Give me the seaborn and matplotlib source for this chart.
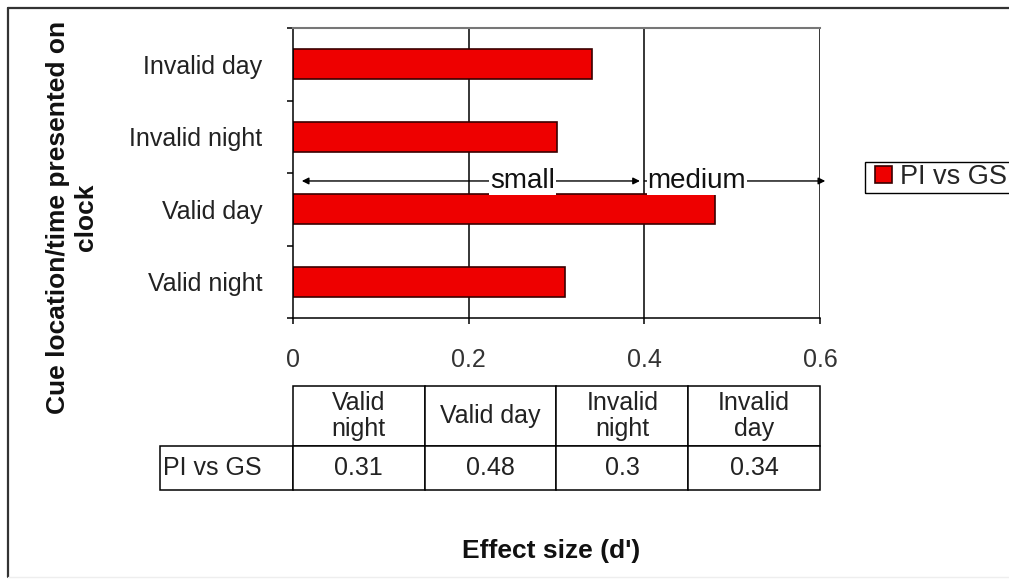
import matplotlib
matplotlib.use("Agg")
import matplotlib.pyplot as plt
import seaborn as sns
import pandas as pd
from matplotlib.lines import Line2D
from matplotlib.patches import Rectangle
from matplotlib.ticker import FixedLocator

# ---- data ----
categories = ["Invalid day", "Invalid night", "Valid day", "Valid night"]
values = [0.34, 0.30, 0.48, 0.31]
series_name = "PI vs GS"
table_order = ["Valid night", "Valid day", "Invalid night", "Invalid day"]
table_headers = ["Valid\nnight", "Valid day", "Invalid\nnight", "Invalid\nday"]
x_ticks = [0, 0.2, 0.4, 0.6]
x_tick_labels = ["0", "0.2", "0.4", "0.6"]
band_small = (0.01, 0.395)
band_medium = (0.40, 0.606)

sns.set_theme(style="white")
plt.rcParams["font.family"] = ["Liberation Sans", "DejaVu Sans"]

W, H = 1009, 581
fig = plt.figure(figsize=(W / 100, H / 100), dpi=100)
ax = fig.add_axes([293 / W, 1 - 318 / H, 527 / W, 290 / H])

df = pd.DataFrame({"category": categories, "value": values, "series": series_name})
red = "#EE0000"
sns.barplot(data=df, x="value", y="category", hue="series", order=categories,
            palette={series_name: red}, width=0.41, edgecolor="#3a0000",
            linewidth=1.2, orient="h", ax=ax, legend=True, saturation=1)

ax.set_xlim(0, 0.6)
ax.set_ylim(3.5, -0.5)

# gridlines
for xv in x_ticks[1:]:
    ax.axvline(xv, color="black", lw=1.1, zorder=0.5)

# spines
for s in ["left", "bottom"]:
    ax.spines[s].set_visible(True)
    ax.spines[s].set_color("black")
    ax.spines[s].set_linewidth(1.1)
ax.spines["top"].set_color("#777777")
ax.spines["top"].set_linewidth(1.5)
ax.spines["right"].set_visible(False)

# ticks
ax.set_xticks(x_ticks)
ax.set_xticklabels(x_tick_labels)
ax.tick_params(axis="x", direction="out", length=4.3, width=1.1, pad=17,
               labelsize=18, labelcolor="#333333", color="black", bottom=True)
ax.yaxis.set_minor_locator(FixedLocator([-0.5, 0.5, 1.5, 2.5, 3.5]))
ax.tick_params(axis="y", which="major", length=0, pad=22, labelsize=18,
               labelcolor="#222222", left=True)
ax.tick_params(axis="y", which="minor", direction="out", length=4.3, width=1.1,
               color="black", left=True)
ax.set_xlabel("")
ax.set_ylabel("")

# effect size bands
ya = 1.61
ax.annotate("", xy=(band_small[0], ya), xytext=(band_small[1], ya),
            arrowprops=dict(arrowstyle="<|-|>", color="black", lw=1.0,
                            mutation_scale=10, shrinkA=0, shrinkB=0),
            annotation_clip=False)
ax.annotate("", xy=(band_medium[1], ya), xytext=(band_medium[0], ya),
            arrowprops=dict(arrowstyle="-|>", color="black", lw=1.0,
                            mutation_scale=10, shrinkA=0, shrinkB=0),
            annotation_clip=False)
ax.text(0.261, ya, "small", ha="center", va="center", fontsize=20, color="#111111",
        bbox=dict(facecolor="white", edgecolor="none", pad=0.5), zorder=5)
ax.text(0.4035, ya, "medium", ha="left", va="center", fontsize=20, color="#111111",
        bbox=dict(facecolor="white", edgecolor="none", pad=0.5), zorder=5)

# legend (frame drawn separately so it runs off the right edge like the reference)
handles, labels = ax.get_legend_handles_labels()
ax.get_legend().remove()
leg = fig.legend(handles, labels, loc="upper left",
                 bbox_to_anchor=(874 / W, 1 - 163 / H), frameon=False,
                 fontsize=19.5, handlelength=0.6, handleheight=0.6,
                 handletextpad=0.3, borderpad=0.05, borderaxespad=0)
fig.add_artist(Rectangle((865 / W, 1 - 193 / H), 160 / W, 31 / H,
                         transform=fig.transFigure, facecolor="none",
                         edgecolor="black", lw=1.0))

# data table
val_map = dict(zip(categories, values))
cell_text = [[""] + table_headers,
             [series_name] + [f"{val_map[c]:g}" for c in table_order]]
x0 = (160 - 293) / 527
y_top = (318 - 386) / 290
y_bot = (318 - 490) / 290
tbl = ax.table(cellText=cell_text, cellLoc="center",
               colWidths=[133, 132, 132, 132, 132],
               bbox=[x0, y_bot, 660 / 527, y_top - y_bot])
tbl.auto_set_font_size(False)
for (r, c), cell in tbl.get_celld().items():
    cell.set_height(60 if r == 0 else 44)
    cell.set_linewidth(1.1)
    cell.set_edgecolor("black")
    cell.get_text().set_fontsize(18)
    cell.get_text().set_color("#222222")
    cell.get_text().set_linespacing(1.15)
    if r == 0 and c == 0:
        cell.visible_edges = ""
    if c == 0 and r == 1:
        cell.get_text().set_ha("left")
        cell.PAD = 0.02

# axis labels
fig.text(551 / W, 1 - 551 / H, "Effect size (d')", ha="center", va="center",
         fontsize=19, fontweight="bold", color="#111111")
fig.text(72 / W, 1 - 217 / H, "Cue location/time presented on\nclock",
         rotation=90, ha="center", va="center", multialignment="center",
         fontsize=19, fontweight="bold", color="#111111", linespacing=1.25)

# outer frame
fig.add_artist(Line2D([8 / W, 8 / W], [1 - 8 / H, 1 - 577 / H], color="#333333",
                      lw=1.6, transform=fig.transFigure))
fig.add_artist(Line2D([8 / W, 1.0], [1 - 8 / H, 1 - 8 / H], color="#333333",
                      lw=1.6, transform=fig.transFigure))
fig.add_artist(Line2D([8 / W, 1.0], [1 - 577 / H, 1 - 577 / H], color="#eeeeee",
                      lw=1.0, transform=fig.transFigure))

fig.savefig("out.png", dpi=100)
